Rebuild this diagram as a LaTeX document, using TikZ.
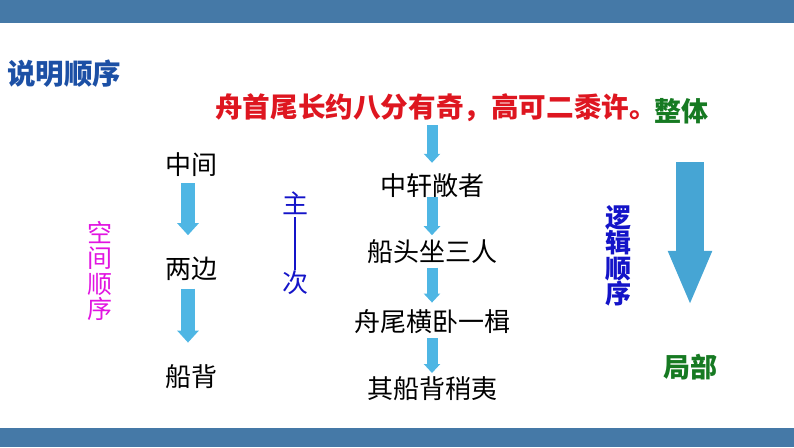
\documentclass[tikz,border=0pt]{standalone}
\usepackage{fontspec}
\setmainfont{Noto Sans CJK SC}
\usetikzlibrary{positioning, arrows.meta}
\definecolor{barblue}{RGB}{69,121,167}
\definecolor{headblue}{RGB}{28,80,165}
\definecolor{sentred}{RGB}{222,22,32}
\definecolor{partgreen}{RGB}{22,122,34}
\definecolor{orderblue}{RGB}{20,20,200}
\definecolor{spacepink}{RGB}{225,20,225}
\definecolor{arrowblue}{RGB}{78,182,228}
\definecolor{bigblue}{RGB}{70,165,212}

\tikzset{
  word/.style={inner sep=0pt, text height=22pt, text depth=4pt, font=\fontsize{26}{26}\selectfont},
  boldword/.style={word, font=\fontsize{27}{27}\selectfont\bfseries},
  column/.style={inner sep=0pt, align=center, font=\fontsize{25}{25.5}\selectfont},
  smallarrow/.style={draw=arrowblue, line width=14pt, -{Triangle[width=21pt,length=12pt]}},
  thinarrow/.style={draw=arrowblue, line width=11pt, -{Triangle[width=16pt,length=9pt]}},
  bigarrow/.style={draw=bigblue, line width=28pt, -{Triangle[width=40pt,length=55pt]}}
}

\begin{document}
\begin{tikzpicture}[x=1pt, y=-1pt, node distance=40pt]
  \useasboundingbox (0,0) rectangle (794,447);
  \fill[barblue] (0,0) rectangle (794,23);
  \fill[barblue] (0,428) rectangle (794,447);

  \node[boldword, text=headblue, anchor=west, font=\fontsize{28.5}{28.5}\selectfont\bfseries] (title) at (7,75) {说明顺序};
  \node[boldword, text=sentred, font=\fontsize{27.6}{27.6}\selectfont\bfseries] (sentence) at (436,108) {舟首尾长约八分有奇，高可二黍许。};
  \node[boldword, text=partgreen] (whole) at (681,112) {整体};
  \node[boldword, text=partgreen] (part) at (690,368) {局部};

  % left column
  \node[word] (middle) at (191,165) {中间};
  \node[word] (sides) [below = 78pt of middle] {两边};
  \node[word] (back) [below = 82pt of sides] {船背};
  \node[column, text=spacepink] (space) at (100,271) {空\\间\\顺\\序};

  \node[word, text=orderblue] (main) at (295,204) {主};
  \node[word, text=orderblue] (minor) at (295,283) {次};
  \draw[orderblue, line width=1.5pt] (main) -- (minor);

  % middle column
  \node[word] (cabin) at (432,186) {中轩敞者};
  \node[word] (bow) [below = of cabin] {船头坐三人};
  \node[word] (stern) [below = 44pt of bow] {舟尾横卧一楫};
  \node[word] (keel) [below = of stern] {其船背稍夷};

  \node[column, text=orderblue, font=\fontsize{26}{25.5}\selectfont\bfseries] (logic) at (618,256) {逻\\辑\\顺\\序};

  \draw[smallarrow, shorten <=5pt, shorten >=21pt] ([xshift=-3pt]middle.south) -- ([xshift=-3pt]sides.north);
  \draw[smallarrow, shorten <=6pt, shorten >=22pt] ([xshift=-3pt]sides.south) -- ([xshift=-3pt]back.north);

  \draw[thinarrow, shorten <=4pt, shorten >=10pt] (sentence.south -| cabin.north) -- (cabin.north);
  \draw[thinarrow, shorten <=-2pt, shorten >=4pt] (cabin.south) -- (bow.north);
  \draw[thinarrow, shorten <=2pt, shorten >=7pt] (bow.south) -- (stern.north);
  \draw[thinarrow, shorten <=2pt, shorten >=3pt] (stern.south) -- (keel.north);

  \draw[bigarrow, shorten <=37pt, shorten >=49pt] (whole.south -| part.north) -- (part.north);
\end{tikzpicture}
\end{document}
